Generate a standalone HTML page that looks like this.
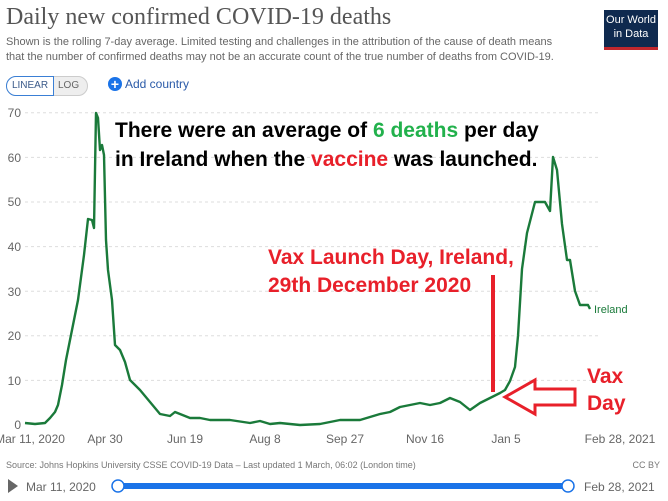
<!DOCTYPE html>
<html><head><meta charset="utf-8"><style>
body{margin:0;width:668px;height:501px;background:#fff;font-family:"Liberation Sans",sans-serif;overflow:hidden;position:relative}
.t{position:absolute;white-space:nowrap}
</style></head><body>
<div class="t" style="left:6px;top:4px;font-family:'Liberation Serif',serif;font-size:24px;color:#555">Daily new confirmed COVID-19 deaths</div>
<div class="t" style="left:6px;top:35px;font-size:11px;color:#666;line-height:15px">Shown is the rolling 7-day average. Limited testing and challenges in the attribution of the cause of death means<br>that the number of confirmed deaths may not be an accurate count of the true number of deaths from COVID-19.</div>
<div class="t" style="left:604px;top:10px;width:54px;height:40px;background:#0f2a4f;border-bottom:3px solid #c0272d;color:#fff;font-size:11px;text-align:center;line-height:14px;padding-top:3px;box-sizing:border-box">Our World<br>in Data</div>
<div class="t" style="left:6px;top:76px;width:80px;height:18px;border:1px solid #ccc;border-radius:10px;background:#eee;font-size:10px"></div>
<div class="t" style="left:6px;top:76px;width:46px;height:18px;border:1px solid #3a7fd5;border-radius:10px 0 0 10px;background:#fff;font-size:10px;color:#3a5a8a;text-align:center;line-height:18px">LINEAR</div>
<div class="t" style="left:58px;top:77px;font-size:10px;color:#666;line-height:18px">LOG</div>
<div class="t" style="left:108px;top:77px;width:14px;height:14px;border-radius:50%;background:#1a73e8;color:#fff;font-size:14px;line-height:14px;text-align:center;font-weight:bold">+</div>
<div class="t" style="left:125px;top:77px;font-size:12px;color:#2a5aa8">Add country</div>
<svg class="t" style="left:0;top:0" width="668" height="501">
<g stroke="#ddd" stroke-dasharray="3,3">
<line x1="25" x2="600" y1="380.4" y2="380.4"/><line x1="25" x2="600" y1="335.8" y2="335.8"/><line x1="25" x2="600" y1="291.2" y2="291.2"/><line x1="25" x2="600" y1="246.6" y2="246.6"/><line x1="25" x2="600" y1="202" y2="202"/><line x1="25" x2="600" y1="157.4" y2="157.4"/><line x1="25" x2="600" y1="112.8" y2="112.8"/>
</g>
<g font-size="12" fill="#666" text-anchor="end">
<text x="21" y="429">0</text><text x="21" y="385">10</text><text x="21" y="340">20</text><text x="21" y="296">30</text><text x="21" y="251">40</text><text x="21" y="206">50</text><text x="21" y="162">60</text><text x="21" y="117">70</text>
</g>
<g font-size="12" fill="#666" text-anchor="middle">
<text x="30" y="443">Mar 11, 2020</text><text x="105" y="443">Apr 30</text><text x="185" y="443">Jun 19</text><text x="265" y="443">Aug 8</text><text x="345" y="443">Sep 27</text><text x="425" y="443">Nov 16</text><text x="506" y="443">Jan 5</text><text x="620" y="443">Feb 28, 2021</text>
</g>
<polyline fill="none" stroke="#1a7a3a" stroke-width="2.4" stroke-linejoin="round" points="25,423 35,424 45,423 50,418 55,412 58,405 62,385 66,360 72,330 78,300 84,255 88,219 92,220 94,228 96,113 98,118 100,150 102,145 104,155 106,240 108,270 112,300 115,345 120,350 125,362 130,380 140,390 150,402 160,414 170,416 175,412 180,414 190,418 200,418 210,420 230,420 250,423 260,421 270,424 280,423 300,425 320,424 340,420 360,420 380,414 390,412 400,407 420,403 430,405 440,403 450,398 460,402 470,410 480,403 490,398 500,393 505,390 510,381 515,367 518,336 522,269 527,233 535,202 545,202 550,211 553,157 557,170 562,224 567,260 570,260 575,291 580,305 588,305 590,309"/>
<text x="594" y="313" font-size="11" fill="#1a7a3a">Ireland</text>
<line x1="493" y1="275" x2="493" y2="392" stroke="#e8202a" stroke-width="4"/>
<polygon points="505,397 535,380 535,389 575,389 575,405 535,405 535,414" fill="#fff" stroke="#e8202a" stroke-width="3"/>
<g font-weight="bold" font-size="21">
<text x="115" y="137">There were an average of <tspan fill="#22b14c">6 deaths</tspan> per day</text>
<text x="115" y="166">in Ireland when the <tspan fill="#e8202a">vaccine</tspan> was launched.</text>
</g>
<g font-weight="bold" font-size="21" fill="#e8202a">
<text x="268" y="264">Vax Launch Day, Ireland,</text>
<text x="268" y="292">29th December 2020</text>
<text x="587" y="383">Vax</text>
<text x="587" y="410">Day</text>
</g>
<text x="6" y="468" font-size="9" fill="#777">Source: Johns Hopkins University CSSE COVID-19 Data – Last updated 1 March, 06:02 (London time)</text>
<text x="660" y="468" font-size="9" fill="#777" text-anchor="end">CC BY</text>
<polygon points="8,479 8,493 18,486" fill="#666"/>
<text x="26" y="491" font-size="12" fill="#666">Mar 11, 2020</text>
<line x1="118" y1="486" x2="568" y2="486" stroke="#1a73e8" stroke-width="6"/>
<circle cx="118" cy="486" r="6" fill="#fff" stroke="#1a73e8" stroke-width="1.5"/>
<circle cx="568" cy="486" r="6" fill="#fff" stroke="#1a73e8" stroke-width="1.5"/>
<text x="584" y="491" font-size="12" fill="#666">Feb 28, 2021</text>
</svg>
</body></html>
